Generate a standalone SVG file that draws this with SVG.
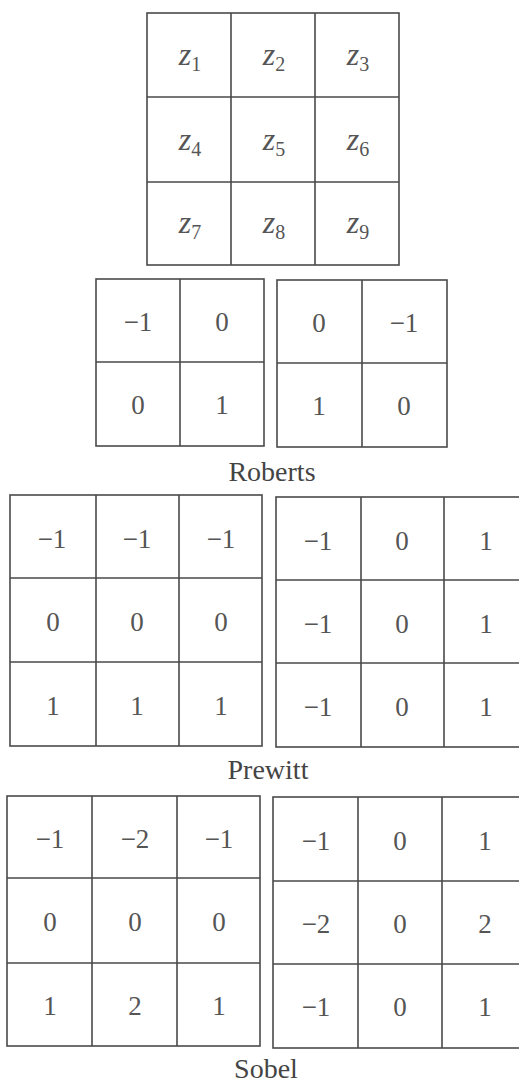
<svg xmlns="http://www.w3.org/2000/svg" width="519" height="1082" viewBox="0 0 519 1082">
<style>
.g{fill:none;stroke:#4a4a4a;stroke-width:1.6}
.n{font-family:"Liberation Serif","DejaVu Serif",serif;font-size:27px;fill:#555;text-anchor:middle}
.z{font-family:"Liberation Serif","DejaVu Serif",serif;font-size:32px;font-style:italic;fill:#555;text-anchor:middle}
.s{font-size:20px;font-style:normal}
.l{font-family:"Liberation Serif","DejaVu Serif",serif;font-size:28px;fill:#444;text-anchor:middle}
</style>
<rect width="519" height="1082" fill="#fff"/>
<g id="grid-z">
<rect class="g" x="147" y="13" width="252" height="252"/>
<path class="g" d="M231 13V265M315 13V265M147 97H399M147 182H399"/>
<text class="z" x="190" y="65">z<tspan class="s" dy="6">1</tspan></text>
<text class="z" x="274" y="65">z<tspan class="s" dy="6">2</tspan></text>
<text class="z" x="358" y="65">z<tspan class="s" dy="6">3</tspan></text>
<text class="z" x="190" y="150">z<tspan class="s" dy="6">4</tspan></text>
<text class="z" x="274" y="150">z<tspan class="s" dy="6">5</tspan></text>
<text class="z" x="358" y="150">z<tspan class="s" dy="6">6</tspan></text>
<text class="z" x="190" y="233">z<tspan class="s" dy="6">7</tspan></text>
<text class="z" x="274" y="233">z<tspan class="s" dy="6">8</tspan></text>
<text class="z" x="358" y="233">z<tspan class="s" dy="6">9</tspan></text>
</g>
<g id="roberts-1">
<rect class="g" x="96" y="279" width="168" height="167"/>
<path class="g" d="M180 279V446M96 362H264"/>
<text class="n" x="138" y="331">−1</text>
<text class="n" x="222" y="331">0</text>
<text class="n" x="138" y="414">0</text>
<text class="n" x="222" y="414">1</text>
</g>
<g id="roberts-2">
<rect class="g" x="277" y="280" width="170" height="167"/>
<path class="g" d="M362 280V447M277 363H447"/>
<text class="n" x="319" y="332">0</text>
<text class="n" x="404" y="332">−1</text>
<text class="n" x="319" y="415">1</text>
<text class="n" x="404" y="415">0</text>
</g>
<text id="label-roberts" class="l" x="272" y="481">Roberts</text>
<g id="prewitt-1">
<rect class="g" x="10" y="495" width="252" height="251"/>
<path class="g" d="M96 495V746M179 495V746M10 578H262M10 662H262"/>
<text class="n" x="52" y="548">−1</text>
<text class="n" x="137" y="548">−1</text>
<text class="n" x="221" y="548">−1</text>
<text class="n" x="53" y="631">0</text>
<text class="n" x="137" y="631">0</text>
<text class="n" x="221" y="631">0</text>
<text class="n" x="53" y="715">1</text>
<text class="n" x="137" y="715">1</text>
<text class="n" x="221" y="715">1</text>
</g>
<g id="prewitt-2">
<rect class="g" x="276" y="497" width="252" height="250"/>
<path class="g" d="M361 497V747M444 497V747M276 580H528M276 663H528"/>
<text class="n" x="318" y="550">−1</text>
<text class="n" x="402" y="550">0</text>
<text class="n" x="486" y="550">1</text>
<text class="n" x="318" y="633">−1</text>
<text class="n" x="402" y="633">0</text>
<text class="n" x="486" y="633">1</text>
<text class="n" x="318" y="716">−1</text>
<text class="n" x="402" y="716">0</text>
<text class="n" x="486" y="716">1</text>
</g>
<text id="label-prewitt" class="l" x="268" y="779">Prewitt</text>
<g id="sobel-1">
<rect class="g" x="7" y="796" width="253" height="250"/>
<path class="g" d="M92 796V1046M177 796V1046M7 878H260M7 963H260"/>
<text class="n" x="50" y="848">−1</text>
<text class="n" x="135" y="848">−2</text>
<text class="n" x="219" y="848">−1</text>
<text class="n" x="50" y="931">0</text>
<text class="n" x="135" y="931">0</text>
<text class="n" x="219" y="931">0</text>
<text class="n" x="50" y="1015">1</text>
<text class="n" x="135" y="1015">2</text>
<text class="n" x="219" y="1015">1</text>
</g>
<g id="sobel-2">
<rect class="g" x="273" y="797" width="253" height="251"/>
<path class="g" d="M358 797V1048M442 797V1048M273 881H526M273 964H526"/>
<text class="n" x="316" y="850">−1</text>
<text class="n" x="400" y="850">0</text>
<text class="n" x="485" y="850">1</text>
<text class="n" x="316" y="933">−2</text>
<text class="n" x="400" y="933">0</text>
<text class="n" x="485" y="933">2</text>
<text class="n" x="316" y="1016">−1</text>
<text class="n" x="400" y="1016">0</text>
<text class="n" x="485" y="1016">1</text>
</g>
<text id="label-sobel" class="l" x="266" y="1078">Sobel</text>
</svg>
